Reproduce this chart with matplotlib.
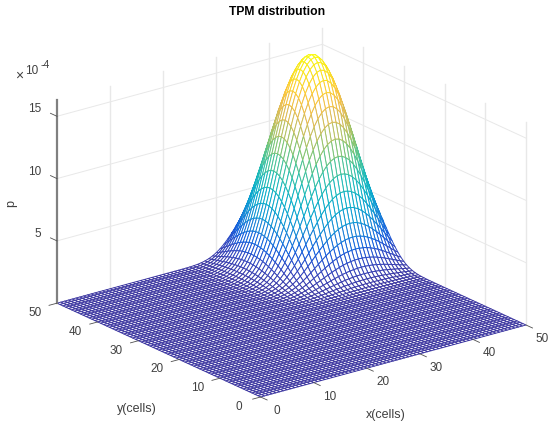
import numpy as np
import matplotlib
matplotlib.use("Agg")
import matplotlib.pyplot as plt
from matplotlib.colors import LinearSegmentedColormap
from mpl_toolkits.mplot3d import proj3d
from mpl_toolkits.mplot3d.art3d import Poly3DCollection

plt.rcParams['font.family'] = ['Liberation Sans', 'DejaVu Sans']

title = "TPM distribution"
x_ticks = [0, 10, 20, 30, 40, 50]
y_ticks = [0, 10, 20, 30, 40, 50]
z_ticks = [5, 10, 15]
z_top = 16.3
peak = 16.45
n_lines = 71
rise = [.0001, .0002, .0005, .0012, .0027, .0054, .0102, .0181, .0305, .0486, .0739, .1075, .1501, .2019,
        .2624, .3305, .4046, .4824, .5620, .6403, .7158, .7856, .8478, .9008, .9436, .9746, .9936, 1]
fall = [.9936, .9746, .9436, .9008, .8478, .7856, .7158, .6403, .5620, .4824, .4046, .3305]
# shape of the hill along each axis (1 = ridge)
profile_x = [0] * 31 + rise + fall
profile_y = [0] * 31 + rise + fall
parula = ['#3b35a0', '#3145bf', '#0f5cdd', '#1481d6', '#069fd1', '#07b0c5', '#25bdb0', '#50c48f',
          '#8cc46b', '#c3bf5e', '#e8ba4f', '#fdc735', '#f9e11e', '#f9fb0e']

cmap = LinearSegmentedColormap.from_list("parula", parula)
W, H = 554, 428
fig = plt.figure(figsize=(W / 100, H / 100), dpi=100)
ax = fig.add_axes([0, 0, 1, 1], projection='3d', proj_type='ortho')
ax.set_axis_off()
ax.patch.set_alpha(0)
ax.view_init(elev=20.7, azim=-127.5)
ax.set_xlim(0, 50); ax.set_ylim(0, 50); ax.set_zlim(0, z_top)
ax.set_box_aspect((1, 1, 0.649))

def pix(x, y, z):
    X, Y, _ = proj3d.proj_transform(x, y, z, ax.get_proj())
    return ax.transData.transform((X, Y))

# place the box so that its floor corners match the reference
fig.canvas.draw()
p0, p1 = pix(50, 0, 0), pix(0, 50, 0)
target0, target1 = np.array([526, H - 325]), np.array([57, H - 303])
k = (target0[0] - target1[0]) / (p0[0] - p1[0])
side = (ax.get_window_extent().width) * k
ax.set_position([0, 0, side / W, side / H])
fig.canvas.draw()
p0 = pix(50, 0, 0)
off = target0 - p0
ax.set_position([off[0] / W, off[1] / H, side / W, side / H])
fig.canvas.draw()

grid = '#e8e8e8'
def seg(a, b, c='k', lw=0.6, zo=1):
    ax.plot([a[0], b[0]], [a[1], b[1]], [a[2], b[2]], color=c, lw=lw, zorder=zo, clip_on=False)

for v in x_ticks[1:-1]:
    seg((v, 50, 0), (v, 50, z_top), grid, lw=1.0)
for v in y_ticks[1:-1]:
    seg((50, v, 0), (50, v, z_top), grid, lw=1.0)
seg((50, 50, 0), (50, 50, z_top), grid, lw=1.0)
seg((50, 0, 0), (50, 0, z_top), grid, lw=1.0)
for v in z_ticks:
    seg((0, 50, v), (50, 50, v), grid, lw=0.7)
    seg((50, 50, v), (50, 0, v), grid, lw=0.7)

xs = np.linspace(0, 50, n_lines)
ZZ = peak * np.outer(profile_y, profile_x)
verts, cols = [], []
for j in range(len(xs) - 1):
    for i in range(len(xs) - 1):
        q = [(xs[i], xs[j], ZZ[j, i]), (xs[i + 1], xs[j], ZZ[j, i + 1]),
             (xs[i + 1], xs[j + 1], ZZ[j + 1, i + 1]), (xs[i], xs[j + 1], ZZ[j + 1, i])]
        verts.append(q)
        cols.append(cmap(np.mean([p[2] for p in q]) / peak))
poly = Poly3DCollection(verts, facecolors='white', edgecolors=cols, linewidths=0.68, zsort='average')
poly.set_zorder(5)
ax.add_collection3d(poly)

axc = '#505050'
seg((0, 50, 0), (0, 50, z_top), '#808080', lw=1.6, zo=9)

def txt(px, py, s, **kw):
    ha = kw.pop('ha', 'center')
    fig.text(px / W, 1 - py / H, s, color=kw.pop('color', '#404040'), ha=ha, va='center', **kw)

for v in x_ticks:
    a = pix(v, 0, 0)
    ax.plot([v, v], [0, -1.6], [0, 0], color=axc, lw=0.6, zorder=9, clip_on=False)
    txt(a[0] + 16, H - a[1] + 14, str(v), fontsize=8.5)
for v in y_ticks:
    a = pix(0, v, 0)
    ax.plot([0, -1.5], [v, v], [0, 0], color=axc, lw=0.6, zorder=9, clip_on=False)
    txt(a[0] - 22, H - a[1] + 10, str(v), fontsize=8.5)
for v in z_ticks:
    a = pix(0, 50, v)
    ax.plot([0, 0], [50, 51.6], [v, v], color=axc, lw=0.6, zorder=9, clip_on=False)
    txt(a[0] - 15.5, H - a[1] - 7, str(v), fontsize=8.5, ha='right')

txt(137, 409, "y(cells)", fontsize=9)
txt(386, 415, "x(cells)", fontsize=9)
txt(11, 204, "p", fontsize=9, rotation=90)
txt(19, 76, "\u00d7", fontsize=10)
txt(32, 71, "10", fontsize=8.5)
txt(45, 65, "-4", fontsize=7.5)
fig.text(277 / W, 1 - 12 / H, title, fontsize=8.7, fontweight='bold', ha='center', va='center', color='black')
fig.savefig("out.png", dpi=100)
